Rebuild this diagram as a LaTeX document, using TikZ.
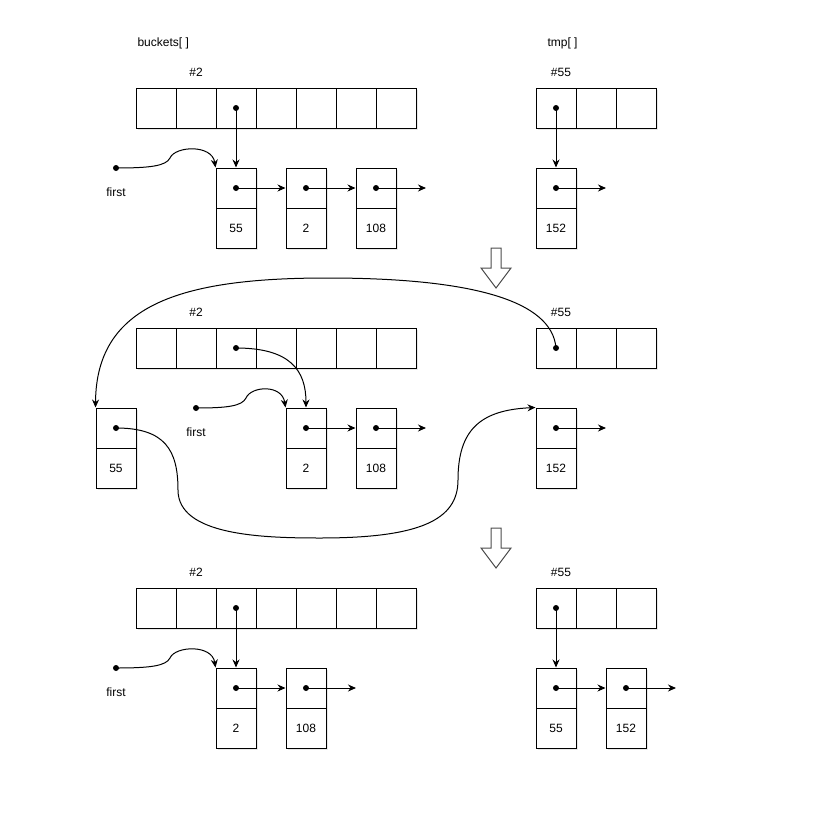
\documentclass[tikz,border=0pt]{standalone}
\usepackage{fontspec}
\setmainfont{Liberation Sans}
\usetikzlibrary{arrows.meta,shadows}
\tikzset{
  cell/.style={draw, fill=white, minimum size=40pt, inner sep=0pt, line width=1pt,
    font=\fontsize{12}{14}\selectfont,
    drop shadow={opacity=0.18, shadow xshift=2pt, shadow yshift=-2pt}},
  dot/.style={circle, fill, inner sep=0pt, minimum size=6pt},
  ptr/.style={line width=1pt, -{Stealth[length=8pt,width=7pt]}},
  lbl/.style={font=\fontsize{12}{14}\selectfont},
  downarrow/.style={draw=black!70, fill=white, line width=1pt}
}
\begin{document}
\begin{tikzpicture}[x=1pt,y=-1pt]
\useasboundingbox (0,0) rectangle (813,814);
% arrays buckets[] and tmp[]
\foreach \s/\y in {A/108,B/348,C/608}{
  \foreach \i in {0,...,6} \node[cell] (b\s\i) at ({156+40*\i},\y) {};
  \foreach \i in {0,1,2} \node[cell] (t\s\i) at ({556+40*\i},\y) {};
}
\node[lbl, anchor=west] (bname) at (134,43) {buckets[ ]};
\node[lbl, anchor=west] (tname) at (544,43) {tmp[ ]};
\foreach \s/\y in {A/72,B/312,C/572}{
  \node[lbl] (h\s) at (196,\y) {\#2};
  \node[lbl] (k\s) at (561,\y) {\#55};
}
% step 1
\node[cell] (pA55) at (236,188) {};
\node[cell] (vA55) at (236,228) {55};
\node[cell] (pA2) at (306,188) {};
\node[cell] (vA2) at (306,228) {2};
\node[cell] (pA108) at (376,188) {};
\node[cell] (vA108) at (376,228) {108};
\node[cell] (pA152) at (556,188) {};
\node[cell] (vA152) at (556,228) {152};
\node[dot] (fA) at (116,168) {};
\node[lbl] (lA) at (116,192) {first};
\coordinate (nA108) at (426,188);
\coordinate (nA152) at (606,188);
% step 2
\node[cell] (pB55) at (116,428) {};
\node[cell] (vB55) at (116,468) {55};
\node[cell] (pB2) at (306,428) {};
\node[cell] (vB2) at (306,468) {2};
\node[cell] (pB108) at (376,428) {};
\node[cell] (vB108) at (376,468) {108};
\node[cell] (pB152) at (556,428) {};
\node[cell] (vB152) at (556,468) {152};
\node[dot] (fB) at (196,408) {};
\node[lbl] (lB) at (196,432) {first};
\coordinate (nB108) at (426,428);
\coordinate (nB152) at (606,428);
% step 3
\node[cell] (pC2) at (236,688) {};
\node[cell] (vC2) at (236,728) {2};
\node[cell] (pC108) at (306,688) {};
\node[cell] (vC108) at (306,728) {108};
\node[cell] (pC55) at (556,688) {};
\node[cell] (vC55) at (556,728) {55};
\node[cell] (pC152) at (626,688) {};
\node[cell] (vC152) at (626,728) {152};
\node[dot] (fC) at (116,668) {};
\node[lbl] (lC) at (116,692) {first};
\coordinate (nC108) at (356,688);
\coordinate (nC152) at (676,688);
% dots
\foreach \n in {bA2,tA0,pA55,pA2,pA108,pA152,bB2,tB0,pB55,pB2,pB108,pB152,bC2,tC0,pC2,pC108,pC55,pC152}
  \node[dot] (d\n) at (\n) {};
% pointers
\draw[ptr] (dbA2.center) -- (pA55.north);
\draw[ptr] (dtA0.center) -- (pA152.north);
\draw[ptr] (dpA55.center) -- (pA2.west);
\draw[ptr] (dpA2.center) -- (pA108.west);
\draw[ptr] (dpA108.center) -- (nA108);
\draw[ptr] (dpA152.center) -- (nA152);
\draw[ptr] (fA.center) .. controls (150,168) and (166,166) .. (170,158) .. controls (175,146) and (212,144) .. (pA55.north west);
\draw[ptr] (dbB2.center) .. controls (290,348) and (306,370) .. (pB2.north);
\draw[ptr] (dtB0.center) .. controls (552,300) and (470,278) .. (327,278) .. controls (180,278) and (96,305) .. (pB55.north west);
\draw[ptr] (dpB55.center) .. controls (165,428) and (178,450) .. (178,490) .. controls (178,535) and (260,538) .. (320,538) .. controls (420,538) and (458,520) .. (458,480) .. controls (458,430) and (480,410) .. (pB152.north west);
\draw[ptr] (dpB2.center) -- (pB108.west);
\draw[ptr] (dpB108.center) -- (nB108);
\draw[ptr] (dpB152.center) -- (nB152);
\draw[ptr] (fB.center) .. controls (228,408) and (242,406) .. (246,398) .. controls (251,386) and (282,384) .. (pB2.north west);
\draw[ptr] (dbC2.center) -- (pC2.north);
\draw[ptr] (dtC0.center) -- (pC55.north);
\draw[ptr] (dpC2.center) -- (pC108.west);
\draw[ptr] (dpC108.center) -- (nC108);
\draw[ptr] (dpC55.center) -- (pC152.west);
\draw[ptr] (dpC152.center) -- (nC152);
\draw[ptr] (fC.center) .. controls (150,668) and (166,666) .. (170,658) .. controls (175,646) and (212,644) .. (pC2.north west);
% big arrows between steps
\foreach \y in {0,280}
  \draw[downarrow, shift={(0,\y)}] (491,248) -- (501,248) -- (501,268) -- (511,268) -- (496,288) -- (481,268) -- (491,268) -- cycle;
\end{tikzpicture}
\end{document}
